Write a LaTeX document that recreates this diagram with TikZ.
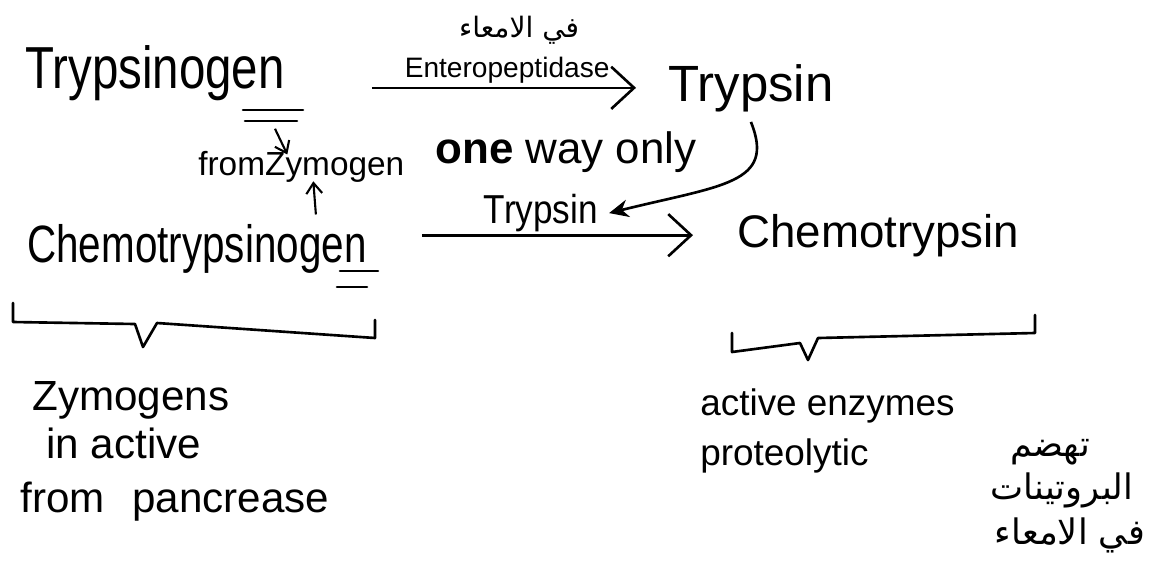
\documentclass[tikz,border=0pt]{standalone}
\usepackage{fontspec}
\setmainfont{Liberation Sans}
\newfontfamily\arabicfont[Script=Arabic]{DejaVu Sans}
\TeXXeTstate=1
\usetikzlibrary{arrows.meta,positioning}

\begin{document}
\begin{tikzpicture}[
			x=0.02cm, y=-0.02cm,
			word/.style={inner sep=0pt, anchor=base west},
			note/.style={word, font=\fontsize{#1}{#1}\selectfont},
			ar/.style={inner sep=0pt, font=\arabicfont\fontsize{20}{24}\selectfont},
			handline/.style={line width=1.5pt, line cap=round, line join=round},
			arrow/.style={-{Straight Barb[length=13pt,width=24pt]}, line width=1.5pt},
			small arrow/.style={-{Straight Barb[length=6pt,width=9pt]}, line width=1.2pt},
			curve arrow/.style={-{Stealth[length=11pt,width=10pt]}, line width=1.5pt}
			]
			\useasboundingbox (0,0) rectangle (1150,569);
			
			% Top row
			\node[word, yscale=1.25, font=\fontsize{27}{32}\selectfont] (tgen) at (25,88) {Trypsinogen};
			\node[word, font=\fontsize{29}{34}\selectfont] (tryp) at (668,101) {Trypsin};
			
			% Enteropeptidase
			\draw[arrow, shorten <=1.74cm, shorten >=0.64cm] (tgen.east |- tryp.west) -- (tryp.west)
				node[pos=0.58, above=2pt, inner sep=0pt, font=\fontsize{16}{18}\selectfont] (ent) {Enteropeptidase};
			\node[above=6pt of ent, xshift=0.24cm, inner sep=0pt, font=\arabicfont\fontsize{16}{18}\selectfont] (fi) {\beginR في الامعاء\endR};
			
			% from zymogen
			\node[word, font=\fontsize{19}{22}\selectfont] (fz) at (198,175) {fromZymogen};
			\node[word, font=\fontsize{25}{30}\selectfont] (one) at (435,163) {\textbf{one} way only};
			
			% Middle row
			\node[word, yscale=1.3, font=\fontsize{23}{28}\selectfont] (chem) at (27,262) {Chemotrypsinogen};
			\node[word, font=\fontsize{26}{30}\selectfont] (chemo) at (737,247) {Chemotrypsin};
			
			% Trypsin arrow
			\draw[arrow, shorten <=1.1cm, shorten >=0.88cm] (chem.east |- chemo.west) -- (chemo.west)
				node[pos=0.47, above=1pt, inner sep=0pt, yscale=1.15, font=\fontsize{20}{24}\selectfont] (tl) {Trypsin};
			\draw[curve arrow] ([yshift=-0.2cm]tryp.south) .. controls +(25,62) and +(113,-28) .. ([xshift=0.2cm]tl.east);
			
			% Underlines
			\draw[handline] (243,110) -- (303,110);
			\draw[handline] (245,121) -- (297,121);
			\draw[handline] (340,271) -- (378,271);
			\draw[handline] (337,287) -- (367,287);
			
			% Small arrows
			\draw[small arrow] ([shift={(-10,28)}]tgen.south east) -- ([shift={(-14,4)}]fz.north);
			\draw[small arrow] ([shift={(-51,-9)}]chem.north east) -- ([shift={(12,-1)}]fz.south);
			
			% Brackets
			\draw[handline] (13,303) -- (13,322) -- (135,324) -- (143,347) -- (157,323) -- (375,338) -- (375,320);
			\draw[handline] (732,333) -- (732,352) -- (800,343) -- (808,360) -- (818,338) -- (1035,333) -- (1035,315);
			
			% Left notes
			\node[note=24] (zy) at (32,410) {Zymogens};
			\node[note=24] (ina) at (46,458) {in active};
			\node[note=24] (pan) at (20,512) {from\hspace{0.55cm}pancrease};
			
			% Right notes
			\node[note=21] (act) at (700,415) {active enzymes};
			\node[note=21] (pro) at (700,465) {proteolytic};
			\node[ar] (ar1) at (1050,452) {\beginR تهضم\endR};
			\node[ar] (ar2) at (1062,490) {\beginR البروتينات\endR};
			\node[ar] (ar3) at (1070,535) {\beginR في الامعاء\endR};
			
		\end{tikzpicture}
\end{document}
